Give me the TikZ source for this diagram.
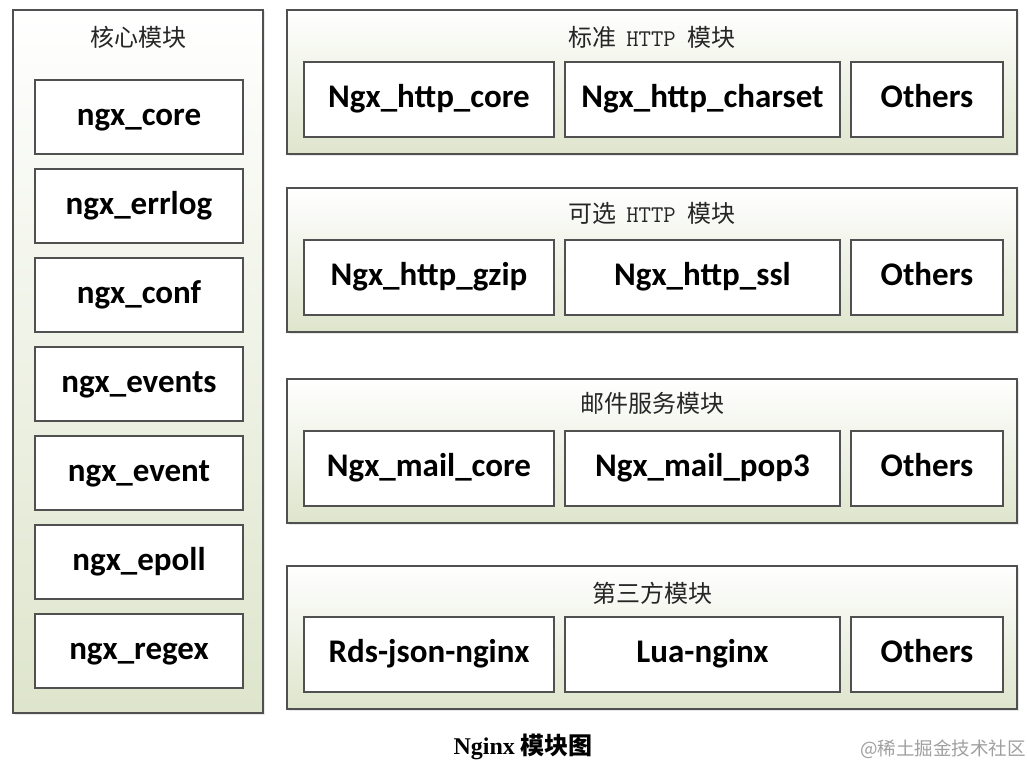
\documentclass[tikz,border=0pt]{standalone}
\usepackage{fontspec}
\setmainfont{Carlito}
\newfontfamily\cjkfont{Noto Sans CJK SC}
\newfontfamily\capfont{Liberation Serif}
\usetikzlibrary{shadows}
\definecolor{panelbot}{RGB}{222,229,204}
\definecolor{edgec}{RGB}{80,80,80}
\definecolor{wmark}{RGB}{160,160,160}
\newcommand{\httpword}{\hspace{10pt}{\ttfamily\fontsize{24}{24}\selectfont HTTP}\hspace{12pt}}
\begin{document}
\begin{tikzpicture}[x=1pt,y=-1pt,
  panel/.style={draw=edgec, line width=1.4pt, top color=white, bottom color=panelbot,
    anchor=north west, inner sep=0pt, outer sep=0pt,
    drop shadow={shadow xshift=1.5pt, shadow yshift=-1.5pt, opacity=0.18}},
  modbox/.style={draw=edgec, line width=1.3pt, fill=white, anchor=north west,
    inner sep=0pt, outer sep=0pt, minimum height=74pt,
    text height=22pt, text depth=6pt,
    font=\fontsize{33}{33}\selectfont\bfseries,
    drop shadow={shadow xshift=1.2pt, shadow yshift=-1.2pt, opacity=0.15}},
  ptitle/.style={font=\cjkfont\fontsize{24}{24}\selectfont, inner sep=0pt, text=black!85}]
\useasboundingbox (0,0) rectangle (1027,768);
\fill[white] (0,0) rectangle (1027,768);

% core panel
\node[panel, minimum width=250pt, minimum height=703pt] (core) at (13,10) {};
\node[ptitle] (coret) at (138,37) {核心模块};
\node[modbox, minimum width=208pt] (c1) at (35,80)  {ngx\_core};
\node[modbox, minimum width=208pt] (c2) at (35,169) {ngx\_errlog};
\node[modbox, minimum width=208pt] (c3) at (35,258) {ngx\_conf};
\node[modbox, minimum width=208pt] (c4) at (35,347) {ngx\_events};
\node[modbox, minimum width=208pt] (c5) at (35,436) {ngx\_event};
\node[modbox, minimum width=208pt] (c6) at (35,525) {ngx\_epoll};
\node[modbox, minimum width=208pt] (c7) at (35,614) {ngx\_regex};

% standard HTTP
\node[panel, minimum width=730pt, minimum height=144pt] (p1) at (287,10) {};
\node[ptitle] (p1t) at (652,37) {标准\httpword 模块};
\node[modbox, minimum width=250pt, minimum height=75pt] (a1) at (304,62) {Ngx\_http\_core};
\node[modbox, minimum width=275pt, minimum height=75pt] (a2) at (565,62) {Ngx\_http\_charset};
\node[modbox, minimum width=152pt, minimum height=75pt] (a3) at (851,62) {Others};

% optional HTTP
\node[panel, minimum width=730pt, minimum height=144pt] (p2) at (287,188) {};
\node[ptitle] (p2t) at (652,213) {可选\httpword 模块};
\node[modbox, minimum width=250pt, minimum height=75pt] (b1) at (304,240) {Ngx\_http\_gzip};
\node[modbox, minimum width=275pt, minimum height=75pt] (b2) at (565,240) {Ngx\_http\_ssl};
\node[modbox, minimum width=152pt, minimum height=75pt] (b3) at (851,240) {Others};

% mail
\node[panel, minimum width=730pt, minimum height=144pt] (p3) at (287,379) {};
\node[ptitle] (p3t) at (652,403) {邮件服务模块};
\node[modbox, minimum width=250pt, minimum height=75pt] (m1) at (304,431) {Ngx\_mail\_core};
\node[modbox, minimum width=275pt, minimum height=75pt] (m2) at (565,431) {Ngx\_mail\_pop3};
\node[modbox, minimum width=152pt, minimum height=75pt] (m3) at (851,431) {Others};

% third party
\node[panel, minimum width=730pt, minimum height=143pt] (p4) at (287,566) {};
\node[ptitle] (p4t) at (652,593) {第三方模块};
\node[modbox, minimum width=250pt, minimum height=75pt] (t1) at (304,617) {Rds-json-nginx};
\node[modbox, minimum width=275pt, minimum height=75pt] (t2) at (565,617) {Lua-nginx};
\node[modbox, minimum width=152pt, minimum height=75pt] (t3) at (851,617) {Others};

% caption and watermark
\node[inner sep=0pt, font=\fontsize{24}{24}\selectfont] (cap) at (523,747)
  {{\capfont\bfseries Nginx}\ {\cjkfont\bfseries 模块图}};
\node[inner sep=0pt, text=wmark, font=\cjkfont\fontsize{18.5}{18.5}\selectfont] (wm) at (943,749) {@稀土掘金技术社区};
\end{tikzpicture}
\end{document}
